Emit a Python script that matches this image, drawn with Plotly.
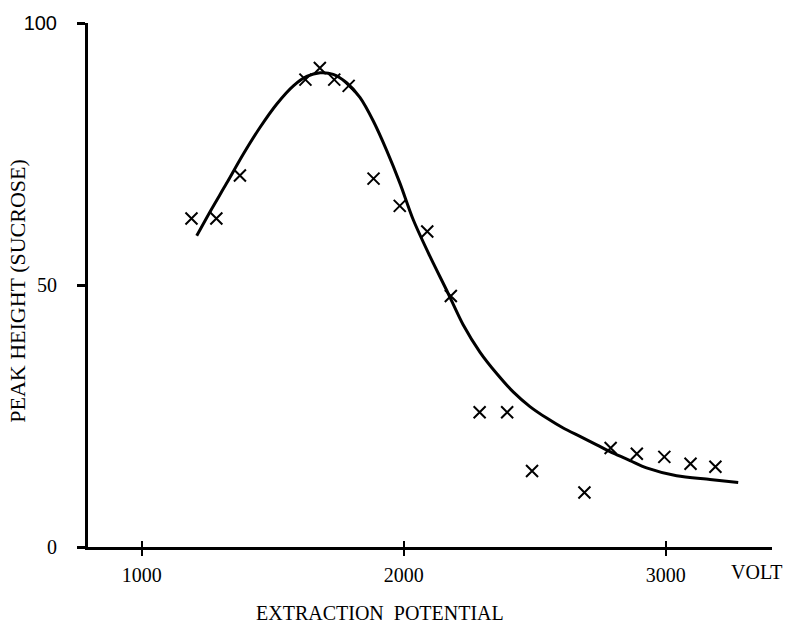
import plotly.graph_objects as go

# measured data points (extraction potential in V, peak height)
volt = [1190, 1285, 1375, 1625, 1680, 1735, 1790, 1885, 1985, 2090,
        2180, 2290, 2395, 2490, 2690, 2790, 2890, 2995, 3095, 3190]
height = [62.7, 62.7, 70.9, 89.2, 91.4, 89.2, 88.0, 70.3, 65.1, 60.2,
          47.9, 25.7, 25.7, 14.5, 10.4, 18.9, 17.8, 17.2, 15.9, 15.3]

# hand-drawn fitted curve
curve_x = [1210, 1261, 1324, 1388, 1452, 1515, 1579, 1630, 1681, 1731, 1782,
           1833, 1884, 1935, 1986, 2037, 2100, 2164, 2227, 2291, 2355, 2418,
           2482, 2546, 2609, 2673, 2737, 2800, 2864, 2927, 3042, 3169, 3277]
curve_y = [59.4, 64.0, 69.4, 75.0, 80.1, 84.5, 88.0, 89.8, 90.5, 90.2, 88.6,
           85.8, 81.3, 75.7, 69.4, 62.4, 55.5, 49.0, 42.4, 37.2, 33.1, 29.6,
           26.8, 24.6, 22.7, 21.1, 19.5, 17.9, 16.5, 15.1, 13.6, 12.9, 12.3]

x_ticks = [1000, 2000, 3000]
x_tick_labels = ["1000", "2000", "3000"]
y_ticks = [0, 50, 100]
y_tick_labels = ["0", "50", '<span style="font-family:Liberation Sans">100</span>']

SERIF = "Liberation Serif"

fig = go.Figure()
fig.add_trace(go.Scatter(x=curve_x, y=curve_y, mode="lines",
                         line=dict(color="black", width=3, shape="spline", smoothing=0.8),
                         hoverinfo="skip", showlegend=False))
fig.add_trace(go.Scatter(x=volt, y=height, mode="markers",
                         marker=dict(symbol="x-thin", size=12, color="black",
                                     line=dict(color="black", width=2)),
                         showlegend=False))
# invisible trace on the overlay axis so it is drawn
fig.add_trace(go.Scatter(x=[x_ticks[0]], y=[0], xaxis="x2", mode="markers",
                         marker=dict(opacity=0), hoverinfo="skip", showlegend=False))

fig.update_layout(
    width=788, height=627,
    margin=dict(l=88, r=16, t=18, b=80),
    paper_bgcolor="white", plot_bgcolor="white",
    font=dict(family=SERIF, color="black", size=20),
    xaxis=dict(range=[795, 3406], tickvals=x_ticks, ticktext=x_tick_labels,
               showgrid=False, zeroline=False, showline=True, linecolor="black",
               linewidth=2.5, ticks="outside", ticklen=6, tickwidth=2,
               tickcolor="black", ticklabelstandoff=2,
               tickfont=dict(family=SERIF, size=20, color="black")),
    xaxis2=dict(overlaying="x", matches="x", anchor="y", tickvals=x_ticks,
                showticklabels=False, showgrid=False, zeroline=False,
                showline=False, ticks="inside", ticklen=6, tickwidth=2,
                tickcolor="black"),
    yaxis=dict(range=[0, 100], tickvals=y_ticks, ticktext=y_tick_labels,
               showgrid=False, zeroline=False, showline=True, linecolor="black",
               linewidth=3, ticks="outside", ticklen=8, tickwidth=3,
               tickcolor="black", ticklabelstandoff=16,
               tickfont=dict(family=SERIF, size=20, color="black")),
    annotations=[
        dict(text="EXTRACTION&nbsp; POTENTIAL", xref="paper", yref="paper",
             x=0.427, y=-0.125, xanchor="center", yanchor="middle",
             showarrow=False, font=dict(family=SERIF, size=20, color="black")),
        dict(text="PEAK HEIGHT (SUCROSE)", xref="paper", yref="paper",
             x=-0.1023, y=0.489, xanchor="center", yanchor="middle",
             textangle=-90, showarrow=False,
             font=dict(family=SERIF, size=22, color="black")),
        dict(text="VOLT", xref="paper", yref="paper",
             x=0.977, y=-0.048, xanchor="center", yanchor="middle",
             showarrow=False, font=dict(family=SERIF, size=20, color="black")),
    ],
)

fig.write_html("out.html")
